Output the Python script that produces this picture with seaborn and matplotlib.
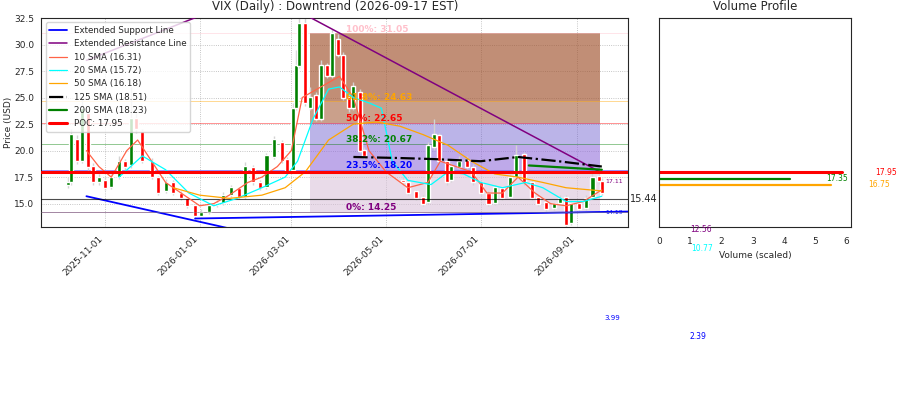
import matplotlib
matplotlib.use("Agg")
import matplotlib.pyplot as plt
import matplotlib.dates as mdates
import seaborn as sns
import pandas as pd
import numpy as np

sns.set_style("white")
plt.rcParams['font.family'] = ['DejaVu Sans']

dates = ["2025-10-08","2025-10-10","2025-10-14","2025-10-17","2025-10-21","2025-10-24","2025-10-28","2025-11-01",
         "2025-11-05","2025-11-10","2025-11-14","2025-11-18","2025-11-21","2025-11-25","2025-12-01","2025-12-05",
         "2025-12-10","2025-12-15","2025-12-20","2025-12-24","2025-12-29","2026-01-02","2026-01-07","2026-01-12",
         "2026-01-16","2026-01-21","2026-01-26","2026-01-30","2026-02-04","2026-02-09","2026-02-13","2026-02-18",
         "2026-02-23","2026-02-26","2026-03-02","2026-03-04","2026-03-06","2026-03-10","2026-03-13","2026-03-17",
         "2026-03-20","2026-03-24","2026-03-27","2026-03-31","2026-04-03","2026-04-07","2026-04-10","2026-04-14",
         "2026-04-17","2026-05-12","2026-05-15","2026-05-20","2026-05-25","2026-05-28","2026-06-01","2026-06-04",
         "2026-06-09","2026-06-12","2026-06-17","2026-06-22","2026-06-26","2026-07-01","2026-07-06","2026-07-10",
         "2026-07-15","2026-07-20","2026-07-24","2026-07-29","2026-08-03","2026-08-07","2026-08-12","2026-08-17",
         "2026-08-21","2026-08-25","2026-08-28","2026-09-02","2026-09-07","2026-09-11","2026-09-15","2026-09-17"]
opens  = [16.8,17.0,21.0,19.0,23.5,18.5,17.0,17.2,16.6,17.5,19.0,18.6,23.0,21.8,19.0,17.5,16.2,17.0,16.0,15.5,
          14.8,13.8,14.2,14.9,15.1,15.8,16.4,15.6,18.4,17.0,16.6,19.4,20.8,19.2,18.2,24.0,28.0,32.0,24.0,25.2,
          23.0,28.0,27.0,30.5,29.0,25.0,24.0,25.5,20.0,17.2,17.0,16.1,15.6,15.2,20.3,21.4,19.0,17.2,18.5,19.1,
          18.4,17.0,16.0,15.1,16.4,15.6,17.5,19.6,17.0,15.6,15.1,14.6,15.1,15.6,13.2,15.0,14.6,15.6,17.6,17.1]
closes = [17.0,21.5,19.0,24.0,18.5,17.0,17.5,16.5,17.5,19.0,18.5,23.0,22.0,19.0,17.5,16.0,17.0,16.0,15.5,14.8,
          13.8,14.2,14.8,15.0,15.8,16.5,15.6,18.5,17.0,16.5,19.5,21.0,19.0,18.0,24.0,28.0,32.0,24.5,25.0,23.0,
          28.0,27.0,31.0,29.0,25.0,24.0,26.0,20.0,19.5,17.0,16.0,15.5,15.0,20.5,21.5,19.0,17.0,18.5,19.0,18.5,
          17.0,16.0,15.0,16.5,15.5,17.5,19.5,17.0,15.5,15.0,14.5,15.0,15.5,13.0,15.0,14.5,15.5,17.5,17.1,16.0]
highs  = [17.5,22.0,21.5,25.0,23.8,18.8,17.8,17.5,17.8,19.5,19.2,26.0,23.5,22.0,19.3,17.6,17.3,17.2,16.2,15.6,
          15.0,14.5,15.1,15.3,16.1,16.8,16.6,18.9,18.6,17.2,19.8,21.4,21.0,19.4,24.5,29.5,33.0,32.5,26.0,25.5,
          28.5,28.3,31.5,31.0,29.3,25.3,26.5,25.8,20.3,17.5,17.2,16.3,15.8,20.8,23.0,21.7,19.2,18.8,19.5,19.5,
          18.7,17.2,16.2,16.8,16.6,17.8,20.5,19.9,17.2,15.8,15.3,15.2,15.8,15.8,15.2,15.2,15.8,18.0,17.8,17.4]
lows   = [16.5,16.8,18.7,18.8,18.2,16.8,16.8,16.3,16.4,17.3,18.2,18.4,21.7,18.8,17.3,15.8,16.0,15.8,15.3,14.6,
          13.6,13.7,14.0,14.7,14.9,15.6,15.4,15.4,16.8,16.3,16.4,19.2,18.8,17.8,18.0,23.8,27.8,24.2,23.8,22.8,
          22.8,26.8,26.8,28.8,24.8,23.6,23.8,19.8,19.2,16.8,15.8,15.3,14.8,15.0,20.1,18.8,16.8,17.0,18.3,18.3,
          16.8,15.8,14.8,14.9,15.3,15.4,17.3,16.8,15.3,14.8,14.3,14.4,14.9,12.5,13.0,14.3,14.4,15.4,16.9,15.8]

sma10_d = ["2025-10-20","2025-10-28","2025-11-05","2025-11-15","2025-11-22","2025-12-01","2025-12-10","2025-12-20",
           "2026-01-01","2026-01-10","2026-01-20","2026-02-01","2026-02-10","2026-02-20","2026-03-01","2026-03-08",
           "2026-03-20","2026-04-01","2026-04-10","2026-04-20","2026-05-01","2026-05-15","2026-05-28","2026-06-05",
           "2026-06-15","2026-06-25","2026-07-05","2026-07-15","2026-07-25","2026-08-05","2026-08-15","2026-08-25",
           "2026-09-05","2026-09-17"]
sma10_v = [20,18.5,17.5,20,21,19,17,16,14.8,15,15.8,17,17.5,18.5,20,25,26,27,25,20,18,16.5,17,19,18.5,18,16,16,
           17.5,16,15,14.8,15.2,16.3]
sma20_d = ["2025-11-10","2025-11-25","2025-12-10","2025-12-25","2026-01-10","2026-01-25","2026-02-10","2026-02-25",
           "2026-03-05","2026-03-15","2026-03-25","2026-04-01","2026-04-10","2026-04-20","2026-04-28","2026-05-05",
           "2026-05-15","2026-05-30","2026-06-10","2026-06-20","2026-07-01","2026-07-15","2026-07-30","2026-08-10",
           "2026-08-25","2026-09-05","2026-09-17"]
sma20_v = [17.5,19.5,18.2,16,14.8,15.5,16.5,17.5,19,23,25.8,26,25,24.5,24,19,17.2,16.8,18,17.8,17,16.5,17,16.5,
           15.2,15.2,15.7]
sma50_d = ["2025-12-15","2026-01-01","2026-01-20","2026-02-10","2026-02-25","2026-03-10","2026-03-25","2026-04-10",
           "2026-04-25","2026-05-10","2026-05-25","2026-06-10","2026-06-25","2026-07-10","2026-07-25","2026-08-10",
           "2026-08-25","2026-09-17"]
sma50_v = [16.5,15.8,15.5,15.8,16.5,18,21,22.5,22.7,22.3,21.5,20.5,19,17.8,17.5,17,16.5,16.2]
sma125_d = ["2026-04-10","2026-05-10","2026-06-01","2026-07-01","2026-07-25","2026-08-20","2026-09-17"]
sma125_v = [19.4,19.3,19.2,19.0,19.4,19.0,18.5]
sma200_d = ["2026-08-01","2026-09-17"]
sma200_v = [18.6,18.2]

fib_pct = ["0%", "23.5%", "38.2%", "50%", "61.8%", "100%"]
fib_val = [14.25, 18.20, 20.67, 22.65, 24.63, 31.05]
fib_col = ["purple", "blue", "green", "red", "orange", "pink"]
band_col = ["thistle", "mediumpurple", "slateblue", "sienna", "sienna"]
band_alpha = [0.55, 0.6, 0.45, 0.55, 0.65]

vp_price = [17.95, 17.35, 16.75]
vp_vol = [5.85, 4.2, 5.5]
vp_col = ["red", "green", "orange"]

poc = 17.95
fig = plt.figure(figsize=(9, 4), dpi=100)
ax = fig.add_axes([0.046, 0.4325, 0.652, 0.5225])
axv = fig.add_axes([0.732, 0.4325, 0.214, 0.5225])

d = pd.to_datetime(dates)
o = np.array(opens); c = np.array(closes)
col = np.where(c >= o, "green", "red")
ax.vlines(d, lows, highs, color="lightgray", lw=1, zorder=2)
ax.bar(d, np.abs(c - o) + 0.05, bottom=np.minimum(o, c), width=2.6, color=col, zorder=3)

x0, x1 = pd.Timestamp("2026-03-13"), pd.Timestamp("2026-09-16")
for i in range(5):
    ax.fill_between([x0, x1], fib_val[i], fib_val[i+1], color=band_col[i], alpha=band_alpha[i], lw=0, zorder=1)
for p, v, cc in zip(fib_pct, fib_val, fib_col):
    ax.axhline(v, color=cc, lw=0.6, alpha=0.5, zorder=1)
    ax.text(pd.Timestamp("2026-04-05"), v + 0.15, f"{p}: {v:.2f}", color=cc, fontsize=6.5, fontweight="bold", zorder=6)

ax.plot(pd.to_datetime(["2025-10-20", "2026-01-25"]), [15.7, 12.5], color="blue", lw=1.3, label="Extended Support Line", zorder=4)
ax.plot(pd.to_datetime(["2025-12-29", "2026-10-22"]), [13.6, 14.3], color="blue", lw=1.3, zorder=4)
ax.plot(pd.to_datetime(["2025-10-20", "2026-01-15"]), [28.5, 33.5], color="purple", lw=1.1, label="Extended Resistance Line", zorder=4)
ax.plot(pd.to_datetime(["2026-03-01", "2026-09-17"]), [33.5, 17.9], color="purple", lw=1.1, zorder=4)

sns.lineplot(x=pd.to_datetime(sma10_d), y=sma10_v, ax=ax, color="#ff6347", lw=0.9, label="10 SMA (16.31)", zorder=5)
sns.lineplot(x=pd.to_datetime(sma20_d), y=sma20_v, ax=ax, color="cyan", lw=0.9, label="20 SMA (15.72)", zorder=5)
sns.lineplot(x=pd.to_datetime(sma50_d), y=sma50_v, ax=ax, color="orange", lw=0.9, label="50 SMA (16.18)", zorder=5)
ax.plot(pd.to_datetime(sma125_d), sma125_v, color="black", lw=1.6, ls="-.", label="125 SMA (18.51)", zorder=5)
sns.lineplot(x=pd.to_datetime(sma200_d), y=sma200_v, ax=ax, color="green", lw=1.6, label="200 SMA (18.23)", zorder=5)
ax.axhline(poc, color="red", lw=2.2, label=f"POC: {poc:.2f}", zorder=5)
ax.axhline(15.44, color="black", lw=0.8, alpha=0.7, zorder=4)
ax.axhline(14.19, color="gray", lw=0.6, alpha=0.6, zorder=4)

ax.text(1.003, 15.44, "15.44", transform=ax.get_yaxis_transform(), fontsize=7, va="center")
ax.text(pd.Timestamp("2026-09-19"), 17.11, "17.11", color="purple", fontsize=4.5, va="center")
ax.text(pd.Timestamp("2026-09-19"), 14.19, "14.19", color="blue", fontsize=4.5, va="center")

ax.set_xlim(pd.Timestamp("2025-09-21"), pd.Timestamp("2026-10-04"))
ax.set_ylim(12.8, 32.5)
ax.set_yticks([15.0, 17.5, 20.0, 22.5, 25.0, 27.5, 30.0, 32.5])
ax.tick_params(axis="both", labelsize=6.5, length=3, pad=2)
ax.xaxis.set_major_locator(mdates.MonthLocator(bymonth=[1, 3, 5, 7, 9, 11]))
ax.xaxis.set_major_formatter(mdates.DateFormatter("%Y-%m-%d"))
plt.setp(ax.get_xticklabels(), rotation=45, ha="right")
ax.grid(True, ls=":", lw=0.6, color="gray", alpha=0.6)
ax.set_ylabel("Price (USD)", fontsize=6.5, labelpad=1)
ax.set_xlabel("")
ax.set_title("VIX (Daily) : Downtrend (2026-09-17 EST)", fontsize=8.5)
ax.legend(loc="upper left", fontsize=6.3, framealpha=0.8)

for p, v, cc in zip(vp_price, vp_vol, vp_col):
    axv.plot([0, v], [p, p], color=cc, lw=2.2 if cc == "red" else 1.6)
axv.set_xlim(0, 6.15)
axv.set_ylim(12.8, 32.5)
axv.set_yticks([])
axv.set_xticks([0, 1, 2, 3, 4, 5, 6])
axv.tick_params(labelsize=6.5)
axv.set_xlabel("Volume (scaled)", fontsize=6.5)
axv.set_title("Volume Profile", fontsize=8.5)

fig.text(897/900, 1-175/400, "17.95", color="red", fontsize=5.5, ha="right")
fig.text(826/900, 1-181/400, "17.35", color="green", fontsize=5.5)
fig.text(868/900, 1-187/400, "16.75", color="orange", fontsize=5.5)
fig.text(690/900, 1-232/400, "12.56", color="purple", fontsize=5.5)
fig.text(691/900, 1-251/400, "10.77", color="cyan", fontsize=5.5)
fig.text(604/900, 1-320/400, "3.99", color="blue", fontsize=5)
fig.text(690/900, 1-339/400, "2.39", color="blue", fontsize=5.5)

fig.savefig("out.png", dpi=100)
